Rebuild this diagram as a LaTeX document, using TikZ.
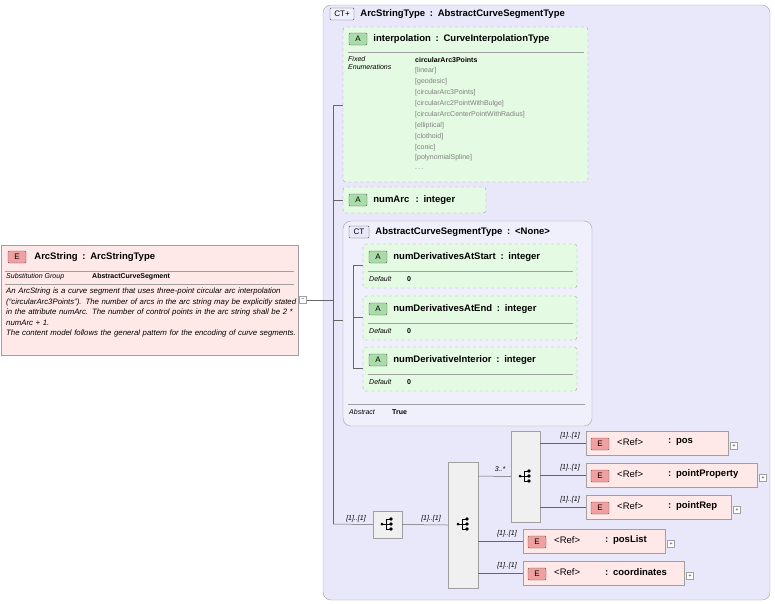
\documentclass[tikz,border=0pt]{standalone}
\usepackage{fontspec}
\setmainfont{Liberation Sans}
\usetikzlibrary{positioning}
\definecolor{ctfill}{RGB}{232,232,250}
\definecolor{ctin}{RGB}{240,240,252}
\definecolor{attfill}{RGB}{228,250,226}
\definecolor{elfill}{RGB}{255,232,232}
\definecolor{badgeE}{RGB}{240,160,160}
\definecolor{badgeA}{RGB}{170,220,170}
\definecolor{frame}{RGB}{160,160,160}
\tikzset{
  conn/.style={draw=gray!80!black, line width=0.5pt},
  att/.style={draw=frame, dashed, fill=attfill, rounded corners=3pt},
  elem/.style={draw=frame, fill=elfill},
  seq/.style={draw=frame, fill=gray!12},
  badge/.style={draw=gray!70!black, rounded corners=1pt, font=\fontsize{8}{9}\selectfont, inner sep=1pt, minimum height=12pt},
  mult/.style={font=\fontsize{7}{8}\selectfont\itshape, inner sep=1pt},
  small/.style={font=\fontsize{7}{8.5}\selectfont, inner sep=0pt, anchor=west},
  ttl/.style={font=\fontsize{9.5}{11}\selectfont\bfseries, inner sep=0pt, anchor=west},
  plus/.style={draw=frame, fill=white, minimum size=7pt, inner sep=0pt, font=\tiny}
}
\newcommand{\seqicon}[1]{%
  \fill (#1) ++(-5,0) circle (1.5);
  \draw (#1) ++(-5,0) -- ++(4,0) (#1) ++(-1,-5) -- ++(0,10) -- ++(4,0) (#1) ++(-1,-5) -- ++(4,0) (#1) ++(-1,0) -- ++(4,0);
  \fill (#1) ++(4,-5) circle (1.8) (#1) ++(4,0) circle (1.8) (#1) ++(4,5) circle (1.8);}
\begin{document}
\begin{tikzpicture}[x=1pt,y=-1pt]
  \useasboundingbox (0,0) rectangle (775,603);
  % element ArcString
  \draw[elem] (1,245) rectangle (298,355);
  \node[badge, fill=badgeE, minimum width=18pt] (bE) at (17,257) {E};
  \node[ttl, right=8pt of bE] (arcTitle) {ArcString\enspace:\enspace ArcStringType};
  \draw[frame] (5,271) -- (294,271) (5,284) -- (294,284);
  \node[small] (sg) at (6,277) {\itshape Substitution Group};
  \node[small] at (92,277) {\bfseries AbstractCurveSegment};
  \node[font=\fontsize{7.8}{10.4}\selectfont, inner sep=0pt, anchor=north west, text width=292pt, align=left] (desc) at (6,288)
    {\itshape An ArcString is a curve segment that uses three-point circular arc interpolation (``circularArc3Points''). The number of arcs in the arc string may be explicitly stated in the attribute numArc. The number of control points in the arc string shall be 2 * numArc + 1.\\The content model follows the general pattern for the encoding of curve segments.};
  \node[plus] (minus) at (303,300) {--};
  % complex type
  \draw[draw=frame, fill=ctfill, rounded corners=8pt] (323,5) rectangle (770,600);
  \node[badge, fill=ctin, minimum width=24pt] (ctBadge) at (342,14) {CT+};
  \node[ttl, right=6pt of ctBadge] {ArcStringType\enspace:\enspace AbstractCurveSegmentType};
  \draw[conn] (minus) -- (323,300);
  \draw[conn] (323,300) -- (333,300);
  \draw[conn] (333,105) -- (333,524);
  \foreach \y in {105,200,320} \draw[conn] (333,\y) -- (343,\y);
  % interpolation
  \draw[att] (343,27) rectangle (588,182);
  \node[badge, fill=badgeA, minimum width=18pt] (aI) at (358,39) {A};
  \node[ttl, right=6pt of aI] {interpolation\enspace:\enspace CurveInterpolationType};
  \draw[frame] (348,52) -- (584,52);
  \node[small, align=left, anchor=north west] at (348,56) {\itshape Fixed\\\itshape Enumerations};
  \node[small] at (415,60) {\bfseries circularArc3Points};
  \foreach \t [count=\i] in {[linear],[geodesic],[circularArc3Points],[circularArc2PointWithBulge],[circularArcCenterPointWithRadius],[elliptical],[clothoid],[conic],[polynomialSpline]}
    \node[small, text=gray] at (415,60+\i*10.9) {\t};
  \node[small, text=gray] at (415,169) {.\,.\,.};
  % numArc
  \draw[att] (343,187) rectangle (486,213);
  \node[badge, fill=badgeA, minimum width=18pt] (aN) at (358,200) {A};
  \node[ttl, right=6pt of aN] {numArc\enspace\,:\enspace integer};
  % abstract type
  \draw[draw=frame, fill=ctin, rounded corners=8pt] (343,221) rectangle (592,426);
  \node[badge, fill=ctfill, minimum width=20pt] (ct2) at (359,232) {CT};
  \node[ttl, right=6pt of ct2] {AbstractCurveSegmentType\enspace:\enspace<None>};
  \draw[conn] (353,265) -- (353,369);
  \foreach \top/\name in {244/numDerivativesAtStart,296/numDerivativesAtEnd,347/numDerivativeInterior}{
    \draw[conn] (353,\top+21) -- (363,\top+21);
    \draw[att] (363,\top) rectangle (577,\top+44);
    \node[badge, fill=badgeA, minimum width=18pt] (a\top) at (378,\top+13) {A};
    \node[ttl, right=6pt of a\top] {\name\enspace:\enspace integer};
    \draw[frame] (368,\top+27) -- (573,\top+27);
    \node[small] at (369,\top+35) {\itshape Default};
    \node[small] at (407,\top+35) {\bfseries 0};
  }
  \draw[frame] (348,404) -- (585,404);
  \node[small] at (349,412) {\itshape Abstract};
  \node[small] at (392,412) {\bfseries True};
  % sequences
  \node[seq, minimum width=29pt, minimum height=27pt] (seqA) at (387.5,524.5) {};
  \node[seq, minimum width=30pt, minimum height=126pt] (seqB) at (463,525) {};
  \node[seq, minimum width=29pt, minimum height=91pt] (seqC) at (525.5,476.5) {};
  \seqicon{387,524} \seqicon{463,524} \seqicon{525,476}
  \draw[conn] (333,524) -- (seqA.west);
  \draw[conn] (seqA.east) -- (seqB.west);
  \draw[conn] (478,476) -- (seqC.west);
  \node[mult] at (356,519) {[1]..[1]};
  \node[mult] at (431,519) {[1]..[1]};
  \node[mult] at (500,469) {3..*};
  % elements
  \foreach \x/\y/\w/\nm/\src in {586/443/142/pos/540,586/475/171/pointProperty/540,586/507/145/pointRep/540,523/541/142/posList/478,523/573/161/coordinates/478}{
    \draw[elem] (\x,\y-12) rectangle (\x+\w,\y+12);
    \node[badge, fill=badgeE, minimum width=18pt] (e\y) at (\x+14,\y+1) {E};
    \node[ttl, font=\fontsize{9.5}{11}\selectfont] at (\x+31,\y-1) {<Ref>};
    \node[ttl] at (\x+82,\y-1) {:\enspace\nm};
    \node[plus] at (\x+\w+6,\y+3) {+};
    \draw[conn] (\src,\y) -- (\x,\y);
    \node[mult] at (\x-16,\y-7) {[1]..[1]};
  }
\end{tikzpicture}
\end{document}
